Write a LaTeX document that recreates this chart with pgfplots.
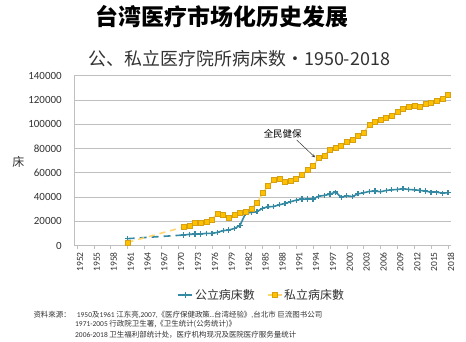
\documentclass[border=0pt]{standalone}
\usepackage{pgfplots}
\usepackage{pgfplotstable}
\pgfplotsset{compat=1.18}
\usepackage{fontspec}
\setmainfont{Carlito}
\newfontfamily\cjk{Noto Sans CJK SC}
\definecolor{tealc}{RGB}{52,138,162}
\definecolor{goldf}{RGB}{255,192,0}
\definecolor{goldd}{RGB}{214,160,20}
\definecolor{goldl}{RGB}{255,214,110}
\definecolor{gridc}{RGB}{191,191,191}
\definecolor{txt}{RGB}{50,50,50}
\pgfplotstableread{
year v
1971 8800
1972 9350
1973 9600
1974 9600
1975 10200
1976 10200
1977 11000
1978 12400
1979 12900
1980 14200
1981 16700
1982 26800
1983 27400
1984 27900
1985 30900
1986 32000
1987 32300
1988 33700
1989 34800
1990 36200
1991 37500
1992 38400
1993 38400
1994 38400
1995 40800
1996 41400
1997 42500
1998 44100
1999 40000
2000 41100
2001 40500
2002 42700
2003 43600
2004 44700
2005 45000
2006 44400
2007 45500
2008 46000
2009 46300
2010 46900
2011 46300
2012 46000
2013 45500
2014 45000
2015 44100
2016 44100
2017 43300
2018 43600
}\pubtable
\pgfplotstableread{
year v
1971 15400
1972 16500
1973 19200
1974 18700
1975 20000
1976 21700
1977 26600
1978 25100
1979 23400
1980 25800
1981 27500
1982 28100
1983 30800
1984 35000
1985 43200
1986 49200
1987 54200
1988 55100
1989 52300
1990 53500
1991 55100
1992 58100
1993 62500
1994 65600
1995 72200
1996 74400
1997 79300
1998 81000
1999 82600
2000 85900
2001 87600
2002 90600
2003 93300
2004 99400
2005 101800
2006 104000
2007 105100
2008 107000
2009 110600
2010 112800
2011 114200
2012 115000
2013 114200
2014 116600
2015 118000
2016 119400
2017 121300
2018 124000
}\privtable
\begin{document}
\begin{tikzpicture}
\path[use as bounding box] (0,0) rectangle (466bp,342bp);
\begin{axis}[
  at={(74.2bp,96.3bp)}, anchor=south west,
  scale only axis, width=376.6bp, height=170bp,
  xmin=1951.5, xmax=2018.5, ymin=0, ymax=140000,
  axis x line*=bottom, axis y line*=left,
  axis line style={gridc, line width=0.8bp},
  xtick={1952,1955,...,2018},
  minor x tick num=2,
  tick align=outside,
  major tick length=3bp, minor tick length=3bp,
  x tick style={gridc, line width=0.5bp},
  y tick style={draw=none},
  ytick={0,20000,...,140000},
  ymajorgrids, grid style={gridc, line width=0.8bp},
  /pgf/number format/assume math mode=true,
  scaled y ticks=false,
  yticklabel style={/pgf/number format/fixed, /pgf/number format/1000 sep={}, font=\fontsize{11}{11}\selectfont, text=txt, xshift=-6bp},
  xticklabel style={/pgf/number format/1000 sep={}, rotate=90, anchor=east, font=\fontsize{9.5}{9.5}\selectfont, text=txt, yshift=-3bp},
  legend style={at={(0.498,-0.29)}, anchor=center, draw=none, fill=none, legend columns=2,
    font=\cjk\fontsize{12}{12}\selectfont, text=txt,
    /tikz/every even column/.append style={column sep=10bp}},
  legend image code/.code={\draw[mark repeat=2,mark phase=2] plot coordinates {(0bp,0bp)(7bp,0bp)(14bp,0bp)};},
]
\addplot[tealc, line width=1.6bp, dash pattern=on 7bp off 5bp, forget plot] coordinates {(1961,5800) (1971,8800)};
\addplot[goldl, line width=1.6bp, dash pattern=on 6bp off 5bp, forget plot] coordinates {(1961,2750) (1971,15400)};
\addplot[only marks, mark=+, mark size=2.6bp, tealc, line width=1.3bp, forget plot] coordinates {(1961,5800)};
\addplot[only marks, mark=square*, mark size=2.5bp, mark options={fill=goldf, draw=goldd, line width=0.5bp}, forget plot] coordinates {(1961,2750)};
\addplot[tealc, line width=1.6bp, mark=+, mark size=2.6bp, mark options={line width=1.3bp}] table[x=year,y=v] {\pubtable};
\addlegendentry{公立病床數}
\addplot[goldl, line width=1.4bp, mark=square*, mark size=2.5bp, mark options={fill=goldf, draw=goldd, line width=0.5bp}] table[x=year,y=v] {\privtable};
\addlegendentry{私立病床數}
\end{axis}
\node[font=\cjk\bfseries\fontsize{23}{23}\selectfont, text=black] at (222bp,325.3bp) {台湾医疗市场化历史发展};
\node[font=\cjk\fontsize{18}{18}\selectfont, text=txt] at (239.5bp,283.7bp) {公、私立医疗院所病床数・1950-2018};
\node[font=\cjk\fontsize{12}{12}\selectfont, text=txt] at (18.3bp,180.3bp) {床};
\node[font=\cjk\fontsize{9.5}{9.5}\selectfont, text=black] at (282.7bp,208bp) {全民健保};
\draw[-stealth, line width=0.5bp, black!80] (296.7bp,202bp) -- (315bp,184.7bp);
\begin{scope}[every node/.style={anchor=west, inner sep=0pt, text=txt, font=\fontsize{7.5}{7.5}\selectfont}]
\node at (33.3bp,27bp) {\cjk 资料來源：};
\node at (76.7bp,27bp) {1950{\cjk 及}1961 {\cjk 江东亮},2007,{\cjk 《医疗保健政策..台湾经验》},{\cjk 台北市 巨流图书公司}};
\node at (75bp,17.7bp) {1971-2005 {\cjk 行政院卫生署,《卫生统计(公务统计)》}};
\node at (75bp,7.7bp) {2006-2018 {\cjk 卫生福利部统计处，医疗机构现况及医院医疗服务量统计}};
\end{scope}
\end{tikzpicture}
\end{document}
